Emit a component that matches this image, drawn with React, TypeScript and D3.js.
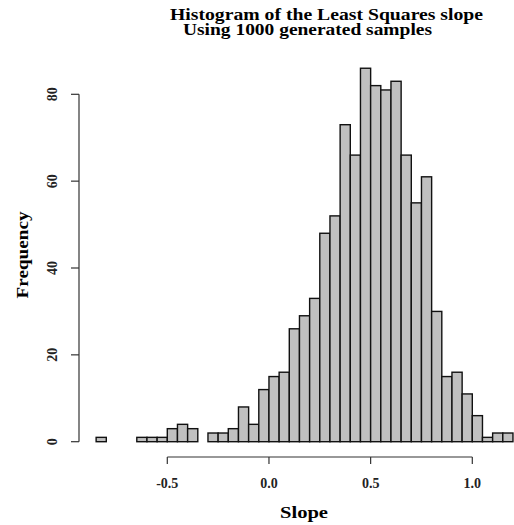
import React, { useRef, useEffect } from 'react';
import * as d3 from 'd3';

// lower edges of each 0.05 wide bin and the counts
const binStarts = [
  -0.85, -0.80, -0.75, -0.70, -0.65, -0.60, -0.55, -0.50, -0.45, -0.40,
  -0.35, -0.30, -0.25, -0.20, -0.15, -0.10, -0.05, 0.00, 0.05, 0.10,
  0.15, 0.20, 0.25, 0.30, 0.35, 0.40, 0.45, 0.50, 0.55, 0.60,
  0.65, 0.70, 0.75, 0.80, 0.85, 0.90, 0.95, 1.00, 1.05, 1.10, 1.15
];
const counts = [
  1, 0, 0, 0, 1, 1, 1, 3, 4, 3,
  0, 2, 2, 3, 8, 4, 12, 15, 16, 26,
  29, 33, 48, 52, 73, 66, 86, 82, 81, 83,
  66, 55, 61, 30, 15, 16, 11, 6, 1, 2, 2
];
const binWidth = 0.05;
const xTicks = [-0.5, 0.0, 0.5, 1.0];
const xTickLabels = ['-0.5', '0.0', '0.5', '1.0'];
const yTicks = [0, 20, 40, 60, 80];

export default function App() {
  const ref = useRef<SVGSVGElement>(null);

  useEffect(() => {
    const svg = d3.select(ref.current);
    svg.selectAll('*').remove();
    const width = 514, height = 525;
    svg.attr('viewBox', `0 0 ${width} ${height}`);

    const font = '"Liberation Serif", "Times New Roman", serif';

    const x = d3.scaleLinear().domain([-0.5, 1.0]).range([167.3, 472.3]);
    const y = d3.scaleLinear().domain([0, 80]).range([441.7, 94.3]);

    const bins = binStarts.map((b, i) => ({ x0: b, n: counts[i] })).filter(d => d.n > 0);

    svg.append('g')
      .selectAll('rect')
      .data(bins)
      .join('rect')
      .attr('x', d => x(d.x0))
      .attr('y', d => y(d.n))
      .attr('width', d => x(d.x0 + binWidth) - x(d.x0))
      .attr('height', d => y(0) - y(d.n))
      .attr('fill', '#c0c0c0')
      .attr('stroke', '#111')
      .attr('stroke-width', 1.4);

    // x axis
    const xa = svg.append('g').attr('stroke', '#333').attr('stroke-width', 1.2);
    xa.append('line')
      .attr('x1', x(xTicks[0])).attr('x2', x(xTicks[xTicks.length - 1]))
      .attr('y1', 457).attr('y2', 457);
    xa.selectAll('.xt').data(xTicks).join('line')
      .attr('x1', d => x(d)).attr('x2', d => x(d))
      .attr('y1', 457).attr('y2', 464);
    svg.selectAll('.xl').data(xTicks).join('text')
      .attr('x', d => x(d)).attr('y', 488)
      .attr('text-anchor', 'middle')
      .attr('font-family', font).attr('font-weight', 'bold').attr('font-size', 14)
      .attr('fill', '#222')
      .text((d, i) => xTickLabels[i]);

    // y axis
    const ya = svg.append('g').attr('stroke', '#333').attr('stroke-width', 1.2);
    ya.append('line')
      .attr('x1', 79).attr('x2', 79)
      .attr('y1', y(0)).attr('y2', y(80));
    ya.selectAll('.yt').data(yTicks).join('line')
      .attr('x1', 71).attr('x2', 79)
      .attr('y1', d => y(d)).attr('y2', d => y(d));
    svg.selectAll('.yl').data(yTicks).join('text')
      .attr('transform', d => `translate(57,${y(d)}) rotate(-90)`)
      .attr('text-anchor', 'middle')
      .attr('font-family', font).attr('font-weight', 'bold').attr('font-size', 14)
      .attr('fill', '#222')
      .text(d => String(d));

    // labels
    svg.append('text')
      .attr('x', 280).attr('y', 518)
      .attr('font-family', font).attr('font-weight', 'bold').attr('font-size', 16)
      .attr('textLength', 48).attr('lengthAdjust', 'spacingAndGlyphs')
      .text('Slope');
    svg.append('text')
      .attr('transform', 'translate(28,255) rotate(-90)')
      .attr('text-anchor', 'middle')
      .attr('font-family', font).attr('font-weight', 'bold').attr('font-size', 17)
      .attr('textLength', 87).attr('lengthAdjust', 'spacingAndGlyphs')
      .text('Frequency');

    // title
    svg.append('text')
      .attr('x', 170).attr('y', 20)
      .attr('font-family', font).attr('font-weight', 'bold').attr('font-size', 17)
      .attr('textLength', 313).attr('lengthAdjust', 'spacingAndGlyphs')
      .text('Histogram of the Least Squares slope');
    svg.append('text')
      .attr('x', 183).attr('y', 35)
      .attr('font-family', font).attr('font-weight', 'bold').attr('font-size', 17)
      .attr('textLength', 249).attr('lengthAdjust', 'spacingAndGlyphs')
      .text('Using 1000 generated samples');
  }, []);

  return (
    <svg
      ref={ref}
      width={514}
      height={525}
      style={{ position: 'absolute', left: 0, top: 0, background: '#fff' }}
      role="img"
      aria-label="Histogram of the Least Squares slope"
    ></svg>
  );
}
